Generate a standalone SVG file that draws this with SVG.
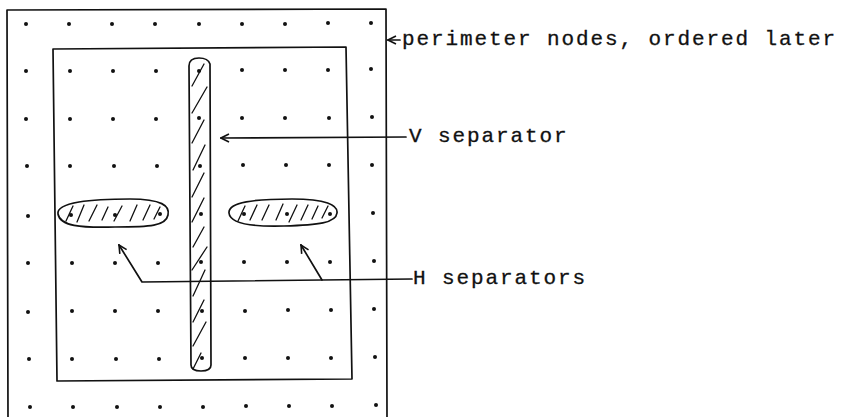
<svg xmlns="http://www.w3.org/2000/svg" width="841" height="417" viewBox="0 0 841 417">
<style>
.ln{fill:none;stroke:#111;stroke-width:1.7;stroke-linejoin:round;stroke-linecap:round}
.ht{fill:none;stroke:#111;stroke-width:1.3;stroke-linecap:round}
.dot{fill:#111}
.lbl{font-family:"Liberation Mono","DejaVu Sans Mono",monospace;font-size:21px;letter-spacing:1.9px;fill:#111;stroke:#111;stroke-width:0.3}
</style>
<defs>
<marker id="arr" viewBox="0 0 10 10" refX="9" refY="5" markerWidth="10" markerHeight="10" markerUnits="userSpaceOnUse" orient="auto">
<path d="M1,1 L9,5 L1,9" fill="none" stroke="#111" stroke-width="1.6"/>
</marker>
</defs>
<rect width="841" height="417" fill="#fff"/>
<g id="perimeter">
<path class="ln" d="M8,417 L7,10 L386,9 L387,417"/>
</g>
<g id="interior">
<path class="ln" d="M53,49 L346,47 L352,379 L57,381 Z"/>
</g>
<g id="grid">
<g class="dot">
<circle cx="26" cy="24" r="2"/><circle cx="69" cy="24" r="2"/><circle cx="112" cy="24" r="2"/><circle cx="155" cy="24" r="2"/><circle cx="199" cy="24" r="2"/><circle cx="242" cy="24" r="2"/><circle cx="285" cy="24" r="2"/><circle cx="328" cy="23" r="2"/><circle cx="371" cy="23" r="2"/>
<circle cx="26" cy="71" r="2"/><circle cx="70" cy="71" r="2"/><circle cx="113" cy="71" r="2"/><circle cx="156" cy="71" r="2"/><circle cx="199" cy="71" r="2"/><circle cx="242" cy="70" r="2"/><circle cx="285" cy="70" r="2"/><circle cx="328" cy="70" r="2"/><circle cx="371" cy="69" r="2"/>
<circle cx="26" cy="119" r="2"/><circle cx="70" cy="119" r="2"/><circle cx="113" cy="119" r="2"/><circle cx="156" cy="119" r="2"/><circle cx="199" cy="118" r="2"/><circle cx="242" cy="118" r="2"/><circle cx="285" cy="118" r="2"/><circle cx="329" cy="118" r="2"/><circle cx="372" cy="117" r="2"/>
<circle cx="27" cy="166" r="2"/><circle cx="70" cy="166" r="2"/><circle cx="114" cy="166" r="2"/><circle cx="157" cy="166" r="2"/><circle cx="200" cy="166" r="2"/><circle cx="243" cy="165" r="2"/><circle cx="286" cy="165" r="2"/><circle cx="329" cy="165" r="2"/><circle cx="372" cy="165" r="2"/>
<circle cx="28" cy="216" r="2"/><circle cx="71" cy="215" r="2"/><circle cx="115" cy="215" r="2"/><circle cx="160" cy="214" r="2"/><circle cx="201" cy="214" r="2"/><circle cx="244" cy="214" r="2"/><circle cx="287" cy="214" r="2"/><circle cx="330" cy="214" r="2"/><circle cx="373" cy="213" r="2"/>
<circle cx="28" cy="263" r="2"/><circle cx="72" cy="263" r="2"/><circle cx="115" cy="263" r="2"/><circle cx="158" cy="263" r="2"/><circle cx="201" cy="262" r="2"/><circle cx="244" cy="262" r="2"/><circle cx="287" cy="262" r="2"/><circle cx="330" cy="262" r="2"/><circle cx="374" cy="261" r="2"/>
<circle cx="28" cy="312" r="2"/><circle cx="72" cy="311" r="2"/><circle cx="115" cy="311" r="2"/><circle cx="158" cy="311" r="2"/><circle cx="202" cy="311" r="2"/><circle cx="245" cy="311" r="2"/><circle cx="288" cy="310" r="2"/><circle cx="331" cy="310" r="2"/><circle cx="374" cy="309" r="2"/>
<circle cx="29" cy="359" r="2"/><circle cx="72" cy="359" r="2"/><circle cx="116" cy="359" r="2"/><circle cx="159" cy="359" r="2"/><circle cx="202" cy="358" r="2"/><circle cx="245" cy="358" r="2"/><circle cx="288" cy="358" r="2"/><circle cx="331" cy="358" r="2"/><circle cx="375" cy="357" r="2"/>
<circle cx="30" cy="407" r="2"/><circle cx="73" cy="407" r="2"/><circle cx="117" cy="407" r="2"/><circle cx="160" cy="407" r="2"/><circle cx="203" cy="407" r="2"/><circle cx="246" cy="406" r="2"/><circle cx="289" cy="406" r="2"/><circle cx="332" cy="406" r="2"/><circle cx="376" cy="405" r="2"/>
</g>
</g>
<g id="v-separator">
<path class="ln" d="M189,66 Q189,58 199,58 Q208,58 210,64 L211,365 Q211,371 201,371 Q191,371 191,365 Z"/>
<path class="ht" d="M192,86 L204,64 M192,113 L207,87 M192,143 L204,120 M193,170 L205,145 M192,197 L204,173 M192,222 L204,198 M193,247 L204,227 M192,270 L207,247 M193,296 L205,270 M193,322 L204,300 M193,346 L206,322 M193,369 L201,353"/>
</g>
<g id="h-separator-left">
<path class="ln" d="M58,214 C56,202 92,199 130,199 C162,199 170,206 168,215 C166,226 150,227 115,227 C80,228 60,226 58,214 Z"/>
<path class="ht" d="M66,221 L73,206 M77,222 L84,205 M89,221 L97,205 M102,220 L108,207 M114,221 L122,206 M130,221 L137,205 M143,220 L150,205 M154,219 L160,207"/>
</g>
<g id="h-separator-right">
<path class="ln" d="M229,213 C228,202 255,199 292,199 C326,199 338,205 337,213 C336,223 318,225 284,226 C250,227 230,223 229,213 Z"/>
<path class="ht" d="M238,221 L245,206 M250,220 L257,205 M262,220 L269,205 M276,220 L283,204 M289,222 L297,205 M301,220 L308,205 M312,219 L318,206 M322,218 L328,206"/>
</g>
<g id="connectors">
<path class="ln" d="M400,40 L388,40" marker-end="url(#arr)"/>
<path class="ln" d="M406,137 L221,138" marker-end="url(#arr)"/>
<path class="ln" d="M412,279 L142,282 L119,245" marker-end="url(#arr)"/>
<path class="ln" d="M322,280 L301,245" marker-end="url(#arr)"/>
</g>
<g id="labels">
<text class="lbl" x="402" y="45">perimeter nodes, ordered later</text>
<text class="lbl" x="409" y="142">V separator</text>
<text class="lbl" x="413" y="284">H separators</text>
</g>
</svg>
